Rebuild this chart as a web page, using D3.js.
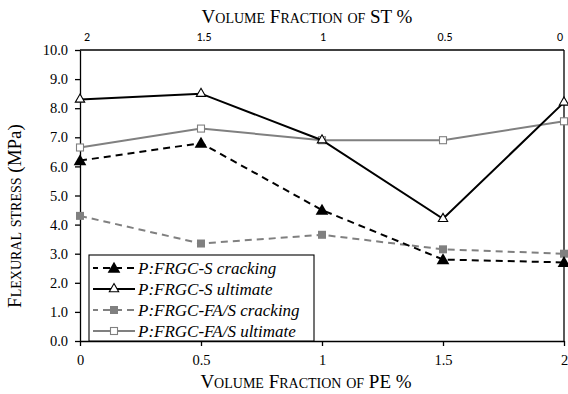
<!DOCTYPE html>
<html>
<head>
<meta charset="utf-8">
<script src="https://cdn.jsdelivr.net/npm/d3@7"></script>
<style>
  html, body { margin: 0; padding: 0; background: #fff; }
  svg { display: block; }
  .tick text { font-family: "Liberation Serif", "Times New Roman", serif; }
</style>
</head>
<body>
<div id="chart"></div>
<script>
// Volume fraction of PE (bottom axis) and ST (top axis), in %
const pe = [0, 0.5, 1, 1.5, 2];
const stTicks = ["2", "1.5", "1", "0.5", "0"];
const yTicks = [0, 1, 2, 3, 4, 5, 6, 7, 8, 9, 10];

// Flexural stress (MPa) for each mix
const sCracking   = [6.2, 6.8, 4.5, 2.8, 2.7];
const sUltimate   = [8.3, 8.5, 6.9, 4.2, 8.2];
const faCracking  = [4.3, 3.35, 3.65, 3.15, 3.0];
const faUltimate  = [6.65, 7.3, 6.9, 6.9, 7.55];

const seriesNames = [
  "P:FRGC-S cracking",
  "P:FRGC-S ultimate",
  "P:FRGC-FA/S cracking",
  "P:FRGC-FA/S ultimate"
];

const SERIF = "'Liberation Serif', 'Times New Roman', serif";
const W = 568, H = 394;
const m = { left: 80, right: 4, top: 50, bottom: 53 };

const svg = d3.select("#chart").append("svg")
  .attr("width", W).attr("height", H);

const x = d3.scaleLinear().domain([0, 2]).range([m.left, W - m.right]);
const y = d3.scaleLinear().domain([0, 10]).range([H - m.bottom, m.top]);

const series = [
  { name: seriesNames[0], values: sCracking,  color: "#000", dash: "7,5", marker: "triFill" },
  { name: seriesNames[1], values: sUltimate,  color: "#000", dash: null,  marker: "triOpen" },
  { name: seriesNames[2], values: faCracking, color: "#808080", dash: "7,5", marker: "sqFill" },
  { name: seriesNames[3], values: faUltimate, color: "#808080", dash: null,  marker: "sqOpen" }
];

// Axes
const gx = svg.append("g")
  .attr("transform", `translate(0,${y(0)})`)
  .call(d3.axisBottom(x).tickValues(pe).tickFormat(d3.format("")).tickSize(5).tickSizeOuter(0));
const gy = svg.append("g")
  .attr("transform", `translate(${x(0)},0)`)
  .call(d3.axisLeft(y).tickValues(yTicks).tickFormat(d3.format(".1f")).tickSize(5).tickSizeOuter(0));

[gx, gy].forEach(g => {
  g.attr("font-family", SERIF).attr("font-size", 14.5);
  g.select(".domain").attr("stroke", "#000").attr("stroke-width", 1.3);
  g.selectAll(".tick line").attr("stroke", "#000").attr("stroke-width", 1.3);
  g.selectAll(".tick text").attr("fill", "#000").style("font-family", SERIF);
});
gx.selectAll(".tick text").attr("y", 10).attr("dy", "0.95em");
gy.selectAll(".tick text").attr("x", -12);

// Top and right frame lines
svg.append("line")
  .attr("x1", x(0)).attr("x2", x(2)).attr("y1", y(10)).attr("y2", y(10))
  .attr("stroke", "#000").attr("stroke-width", 1.3);
svg.append("line")
  .attr("x1", x(2)).attr("x2", x(2)).attr("y1", y(10)).attr("y2", y(0))
  .attr("stroke", "#000").attr("stroke-width", 1.3);

// Secondary (ST) tick labels along the top
const stShift = [7, 3, 1, 2, -4];
svg.append("g").selectAll("text")
  .data(pe)
  .join("text")
  .attr("x", (d, i) => x(d) + stShift[i])
  .attr("y", y(10) - 9)
  .attr("text-anchor", "middle")
  .attr("font-family", "Carlito, 'Liberation Sans', 'Open Sans', sans-serif")
  .attr("font-size", 12)
  .attr("fill", "#000")
  .text((d, i) => stTicks[i]);

// Small-caps title: capitals at full size, lowercase as smaller capitals
function smallCaps(sel, str, big, small) {
  sel.attr("font-family", SERIF).attr("fill", "#000");
  const parts = str.match(/[a-z]+|[^a-z]+/g);
  parts.forEach(p => {
    const isLower = /^[a-z]+$/.test(p);
    sel.append("tspan")
      .attr("font-size", isLower ? small : big)
      .text(isLower ? p.toUpperCase() : p);
  });
}

smallCaps(svg.append("text").attr("x", 307).attr("y", 23).attr("text-anchor", "middle"),
  "Volume Fraction of ST %", 19, 14);
smallCaps(svg.append("text").attr("x", 306).attr("y", 388).attr("text-anchor", "middle"),
  "Volume Fraction of PE %", 19, 14);

// Y title: small-caps words followed by the unit in normal case
const yt = svg.append("text")
  .attr("transform", "translate(21,216) rotate(-90)")
  .attr("text-anchor", "middle");
smallCaps(yt, "Flexural stress ", 19, 14);
yt.append("tspan").attr("font-size", 19).text("(MPa)");

// Marker drawing
function drawMarker(g, type, color, cx, cy) {
  if (type === "triFill") {
    g.append("path")
      .attr("d", d3.symbol(d3.symbolTriangle, 70)())
      .attr("transform", `translate(${cx},${cy + 1})`)
      .attr("fill", color);
  } else if (type === "triOpen") {
    g.append("path")
      .attr("d", d3.symbol(d3.symbolTriangle, 38)())
      .attr("transform", `translate(${cx},${cy})`)
      .attr("fill", "#fff").attr("stroke", color).attr("stroke-width", 1.1);
  } else if (type === "sqFill") {
    g.append("rect")
      .attr("x", cx - 4).attr("y", cy - 4).attr("width", 8).attr("height", 8)
      .attr("fill", color);
  } else {
    g.append("rect")
      .attr("x", cx - 3.5).attr("y", cy - 3.5).attr("width", 7).attr("height", 7)
      .attr("fill", "#fff").attr("stroke", color).attr("stroke-width", 1.1);
  }
}

const line = d3.line().x((d, i) => x(pe[i])).y(d => y(d));

// Draw order: gray series underneath, black on top
const order = [3, 2, 1, 0];
order.forEach(k => {
  const s = series[k];
  const g = svg.append("g");
  g.append("path")
    .datum(s.values)
    .attr("d", line)
    .attr("fill", "none")
    .attr("stroke", s.color)
    .attr("stroke-width", 2)
    .attr("stroke-dasharray", s.dash);
  s.values.forEach((v, i) => drawMarker(g, s.marker, s.color, x(pe[i]), y(v)));
});

// Legend
const lg = svg.append("g");
const lx = 89, ly = 255;
lg.append("rect")
  .attr("x", lx).attr("y", ly).attr("width", 225).attr("height", y(0) - ly)
  .attr("fill", "#fff").attr("stroke", "#000").attr("stroke-width", 1.1);

series.forEach((s, i) => {
  const cy = 268 + i * 21;
  lg.append("line")
    .attr("x1", lx + 4).attr("x2", lx + 46).attr("y1", cy).attr("y2", cy)
    .attr("stroke", s.color).attr("stroke-width", 2)
    .attr("stroke-dasharray", s.dash ? "7,5" : null)
    .attr("stroke-dashoffset", s.dash ? 2 : null);
  drawMarker(lg, s.marker, s.color, lx + 25, cy);
  lg.append("text")
    .attr("x", lx + 49).attr("y", cy + 5.5)
    .attr("font-family", SERIF)
    .attr("font-size", 17)
    .attr("font-style", "italic")
    .attr("fill", "#000")
    .text(s.name);
});
</script>
</body>
</html>
